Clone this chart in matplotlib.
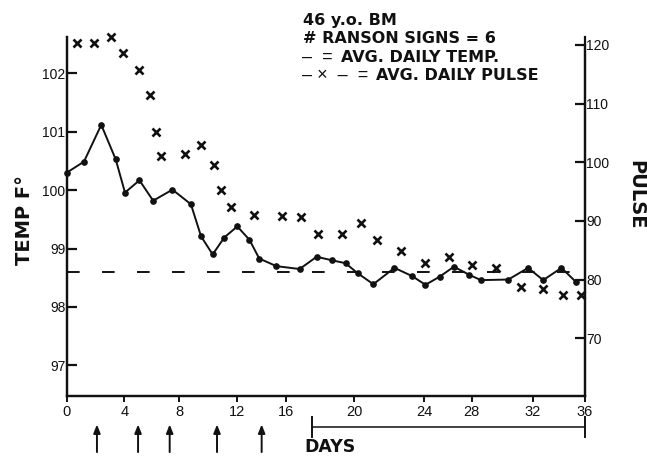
import numpy as np
import matplotlib.pyplot as plt

# average daily temperature (deg F)
temp_day = [0, 1.2, 2.4, 3.4, 4.05, 5.1, 6.1, 7.5, 8.8, 9.5, 10.3, 11.1, 12.0, 13.0,
            13.8, 15.2, 16.8, 17.8, 18.7, 19.5, 20.2, 21.1, 22.3, 23.3, 24.1, 25.3,
            26.5, 27.8, 28.6, 30.4, 31.7, 32.8, 34.2, 35.3]
temp_f = [100.30, 100.49, 101.12, 100.53, 99.96, 100.17, 99.82, 100.01, 99.76, 99.21,
          98.90, 99.19, 99.38, 99.15, 98.83, 98.70, 98.65, 98.86, 98.80, 98.75, 98.58,
          98.39, 98.67, 98.53, 98.38, 98.52, 98.69, 98.55, 98.46, 98.47, 98.67, 98.46,
          98.67, 98.43]

# average daily pulse
pulse_day = [0.7, 1.9, 3.1, 3.9, 5.1, 5.9, 6.3, 6.7, 8.4, 9.5, 10.4, 10.9, 11.55, 13.4,
             15.7, 16.9, 17.9, 19.3, 20.4, 21.3, 22.7, 24.1, 26.1, 28.0, 29.6, 31.2,
             32.8, 34.3, 35.7]
pulse = [120.3, 120.3, 121.3, 118.6, 115.7, 111.5, 105.2, 101.1, 101.4, 103.0, 99.5,
         95.2, 92.3, 91.0, 90.8, 90.6, 87.7, 87.8, 89.7, 86.8, 84.9, 82.9, 83.8, 82.4,
         82.0, 78.7, 78.4, 77.3, 77.3]

normal_temp = 98.6
arrow_days = [2.1, 5.0, 7.3, 10.6, 14.0]
bracket_days = [17.5, 36]

day_ticks = list(range(0, 37, 4))
temp_ticks = [97, 98, 99, 100, 101, 102]
pulse_ticks = [70, 80, 90, 100, 110, 120]

# the hand drawn day axis is not evenly spaced; map ticks to where they sit
tick_pos = [66.7, 124.3, 179.3, 237.3, 286.0, 354.0, 424.3, 471.7, 532.7, 585.0]


def fwd(x):
    return np.interp(x, day_ticks, tick_pos)


def inv(x):
    return np.interp(x, tick_pos, day_ticks)


ink = '#111111'
plt.rcParams['font.family'] = ['Liberation Sans', 'DejaVu Sans']

fig = plt.figure(figsize=(6.47, 4.58), dpi=100)
ax = fig.add_axes([0.1031, 0.136, 0.8011, 0.7839])
ax.set_xscale('function', functions=(fwd, inv))
ax.set_xlim(0, 36)
ax.set_ylim(96.48, 102.63)

ax2 = ax.twinx()
ax2.set_ylim(60.2, 121.4)

# temperature line + normal reference
ax.plot(temp_day, temp_f, color=ink, lw=1.4, marker='o', ms=3.8, clip_on=False, zorder=3)
ax.axhline(normal_temp, color=ink, lw=1.4, dashes=(6.5, 11.5), dash_capstyle='butt')
# pulse crosses
ax2.plot(pulse_day, pulse, ls='none', marker='x', ms=6, mew=1.9, color=ink, clip_on=False)

for a in (ax, ax2):
    for s in a.spines.values():
        s.set_linewidth(1.6)
        s.set_color(ink)
    a.spines['top'].set_visible(False)
ax2.spines['right'].set_bounds(60.2, 120)

ax.set_xticks(day_ticks)
ax.set_xticklabels([str(d) for d in day_ticks])
ax.tick_params(axis='x', direction='out', length=4, width=1.4, pad=3, labelsize=10.5, colors=ink)
ax.set_yticks(temp_ticks)
ax.set_yticklabels([str(t) for t in temp_ticks])
ax.tick_params(axis='y', direction='in', length=7, width=1.6, pad=1, labelsize=10, colors=ink)
ax2.set_yticks(pulse_ticks)
ax2.set_yticklabels([str(p) for p in pulse_ticks])
ax2.tick_params(axis='y', direction='in', length=7, width=1.6, pad=1, labelsize=10, colors=ink)

bold = dict(family='DejaVu Sans', fontweight='bold', color=ink)
fig.text(25 / 647, 1 - 220 / 458, 'TEMP F°', rotation=90, ha='center', va='center', fontsize=14, **bold)
fig.text(636 / 647, 1 - 195 / 458, 'PULSE', rotation=-90, ha='center', va='center', fontsize=14, **bold)
fig.text(330 / 647, 1 - 447 / 458, 'DAYS', ha='center', va='center', fontsize=12.5, **bold)

# legend / header block
fig.text(303 / 647, 1 - 25 / 458, '46 y.o. BM', ha='left', va='baseline', fontsize=11.5, **bold)
fig.text(303 / 647, 1 - 43 / 458, '# RANSON SIGNS = 6', ha='left', va='baseline', fontsize=11.5, **bold)
fig.text(302 / 647, 1 - 62 / 458, '–  =', ha='left', va='baseline', fontsize=13, color=ink)
fig.text(341 / 647, 1 - 62 / 458, 'AVG. DAILY TEMP.', ha='left', va='baseline', fontsize=11.5, **bold)
fig.text(302 / 647, 1 - 80 / 458, '– ×  –  =', ha='left', va='baseline', fontsize=13, color=ink)
fig.text(376 / 647, 1 - 80 / 458, 'AVG. DAILY PULSE', ha='left', va='baseline', fontsize=11.5, **bold)

# arrows under the day axis
xt = ax.get_xaxis_transform()
for d in arrow_days:
    ax.annotate('', xy=(d, -0.08), xytext=(d, -0.157), xycoords=xt, textcoords=xt,
                arrowprops=dict(arrowstyle='-|>,head_length=0.5,head_width=0.2', color=ink, lw=1.4,
                                shrinkA=0, shrinkB=0), annotation_clip=False)

# bracket for the later days
ax.plot(bracket_days, [-0.0863, -0.0863], transform=xt, color=ink, lw=1.1, clip_on=False)
for d in bracket_days:
    ax.plot([d, d], [-0.06, -0.114], transform=xt, color=ink, lw=1.4, clip_on=False)

fig.savefig('out.png', dpi=100)
